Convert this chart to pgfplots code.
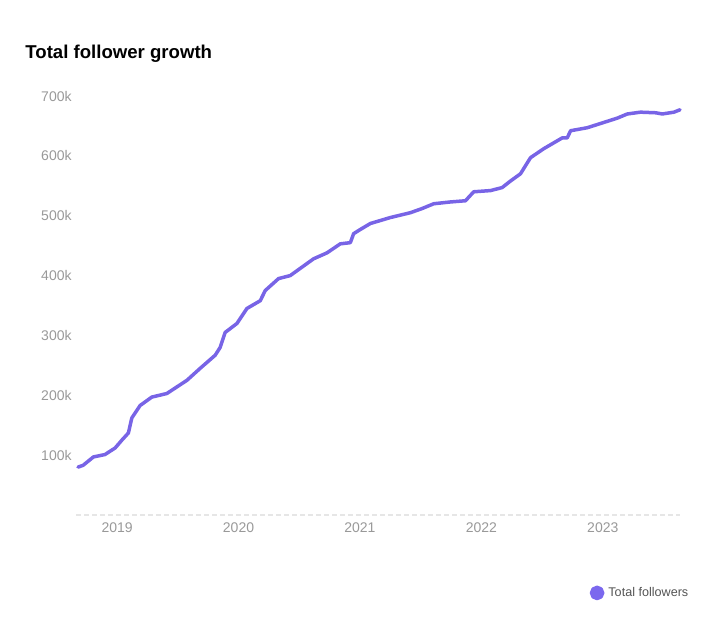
\documentclass[border=0pt]{standalone}
\usepackage{pgfplots}
\pgfplotsset{compat=1.18}
\usepackage{fontspec}
\setmainfont{Liberation Sans}
\definecolor{lineC}{HTML}{7864E6}
\definecolor{dotC}{HTML}{7B68EE}
\definecolor{tickC}{HTML}{999999}
\definecolor{legC}{HTML}{555555}
\definecolor{baseC}{HTML}{E6E6E6}
\begin{document}
\begin{tikzpicture}
\path[use as bounding box] (0,0) rectangle (356bp,319bp);
\node[anchor=base west, inner sep=0pt, font=\fontsize{9.3bp}{11bp}\selectfont\bfseries] at (12.5bp,289.8bp) {Total follower growth};
\begin{axis}[
  at={(39bp,61.5bp)}, anchor=south west,
  scale only axis, width=301bp, height=209.5bp,
  xmin=2018.678, xmax=2023.636, ymin=0, ymax=700,
  clip=false,
  axis line style={draw=none},
  tick style={draw=none},
  xtick={2019,2020,2021,2022,2023},
  xticklabels={2019,2020,2021,2022,2023},
  ytick={100,200,300,400,500,600,700},
  yticklabels={100k,200k,300k,400k,500k,600k,700k},
  tick label style={font=\fontsize{7bp}{8bp}\selectfont, text=tickC},
  yticklabel style={anchor=east, inner sep=0pt, xshift=-3bp},
  xticklabel style={anchor=north, inner sep=0pt, yshift=-3.5bp},
  legend style={at={(1.021,-0.186)}, anchor=east, draw=none, fill=none,
    font=\fontsize{6.3bp}{7.5bp}\selectfont, text=legC, inner sep=0pt,
    /tikz/every even column/.append style={column sep=1.5bp}},
  legend image code/.code={\fill[dotC] (0.5bp,0bp) circle (2.8bp);},
]
\addplot[baseC, line width=0.8bp, dash pattern=on 2.5bp off 1.5bp, forget plot] coordinates {(2018.66,0) (2023.636,0)};
\addplot[lineC, line width=1.75bp, line join=round, line cap=round] coordinates {
(2018.678,80) (2018.720,83) (2018.805,97) (2018.900,101) (2018.984,112) (2019.039,125) (2019.093,137)
(2019.121,162) (2019.190,183) (2019.286,197) (2019.410,203) (2019.575,225)
(2019.684,245) (2019.808,267) (2019.849,280) (2019.890,305) (2019.987,320)
(2020.069,345) (2020.179,358) (2020.220,375) (2020.330,395) (2020.426,400)
(2020.618,428) (2020.729,438) (2020.838,453) (2020.921,455) (2020.948,470)
(2021.003,477) (2021.086,487) (2021.251,497) (2021.415,505) (2021.512,512)
(2021.608,520) (2021.745,523) (2021.869,525) (2021.937,540) (2022.075,542)
(2022.171,547) (2022.240,558) (2022.322,570) (2022.405,597) (2022.514,612)
(2022.666,630) (2022.707,630) (2022.735,642) (2022.872,647) (2023.119,663)
(2023.202,670) (2023.311,673) (2023.435,672) (2023.490,670) (2023.586,673)
(2023.636,677)
};
\addlegendentry{Total followers}
\end{axis}
\end{tikzpicture}
\end{document}
